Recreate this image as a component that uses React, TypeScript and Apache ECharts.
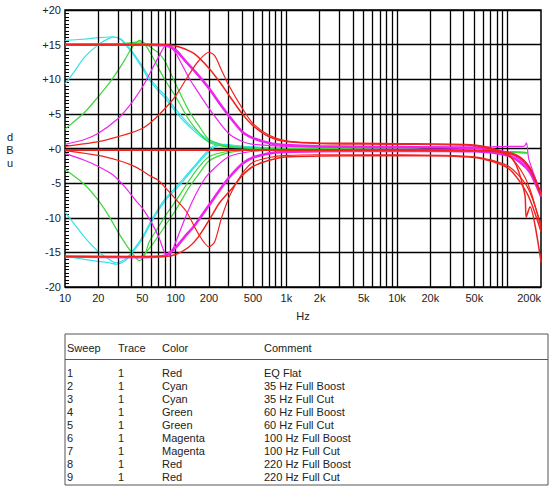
import React, { useEffect, useRef } from 'react';
import * as echarts from 'echarts';

// ---------- axis ticks ----------
const X_LABEL_FREQS = [10, 20, 50, 100, 200, 500, 1000, 2000, 5000, 10000, 20000, 50000, 200000];
const X_GRID_FREQS = [
  20, 30, 40, 50, 60, 70, 80, 90, 100,
  200, 300, 400, 500, 600, 700, 800, 900, 1000,
  2000, 3000, 4000, 5000, 6000, 7000, 8000, 9000, 10000,
  20000, 30000, 40000, 50000, 60000, 70000, 80000, 90000, 100000,
];
const Y_MIN = -20;
const Y_MAX = 20;
const Y_STEP = 5;

// ---------- series (Hz, dBu) ----------
const EQ_FLAT = [[10, -0.2], [100, -0.2], [1000, -0.2], [10000, -0.2], [50000, -0.3], [100000, -0.6], [130000, -1.3], [160000, -3.0], [200000, -6.7]];

const CYAN_35_BOOST_BELL = [[10, 9.3], [12, 11], [15, 13.2], [20, 15.0], [25, 15.9], [28, 16.1], [32, 15.7], [35, 15.0], [40, 13.9], [50, 11.6], [57, 10.0], [70, 8.3], [80, 7.3], [100, 5.3], [130, 3.3], [170, 1.7], [200, 1.0], [300, 0.3], [500, 0.1], [1000, 0], [10000, -0.1], [50000, -0.3], [100000, -0.5], [150000, -0.6]];
const CYAN_35_BOOST_SHELF = [[10, 15.6], [15, 15.8], [20, 16.0], [25, 16.1], [28, 16.1], [32, 15.8], [35, 15.2], [40, 14.1], [50, 11.9], [57, 10.4], [70, 8.6], [80, 7.7], [100, 5.7], [130, 3.6], [170, 2.0], [200, 1.2], [300, 0.4], [500, 0.1], [1000, 0], [10000, -0.1], [50000, -0.3], [100000, -0.5], [150000, -0.6]];
const CYAN_35_CUT_BELL = [[10, -9.2], [12, -10.8], [15, -12.8], [20, -14.9], [25, -16.0], [29, -16.5], [35, -16.0], [39, -15.2], [50, -12.8], [62, -10.0], [80, -7.3], [100, -5.6], [117, -4.4], [150, -2.4], [190, -0.5], [230, 0.5], [280, 0.6], [400, 0.3], [700, 0.1], [1000, 0], [10000, -0.1], [50000, -0.3], [100000, -0.5], [150000, -0.6]];
const CYAN_35_CUT_SHELF = [[10, -15.6], [15, -16.0], [20, -16.3], [25, -16.5], [29, -16.7], [35, -16.2], [39, -15.4], [50, -13.1], [62, -10.3], [80, -7.6], [100, -5.9], [117, -4.7], [150, -2.6], [190, -0.8], [230, 0.3], [280, 0.5], [400, 0.3], [700, 0.1], [1000, 0], [10000, -0.1], [50000, -0.3], [100000, -0.5], [150000, -0.6]];

const GREEN_60_BOOST_BELL = [[10, 2.8], [15, 5.2], [20, 7.5], [25, 9.4], [30, 11.2], [35, 12.9], [40, 14.5], [47, 15.6], [52, 15.2], [60, 13.6], [70, 11.6], [80, 9.9], [100, 7.5], [130, 4.3], [160, 2.4], [200, 0.9], [300, 0.2], [500, 0.05], [1000, 0], [10000, -0.1], [50000, -0.3], [100000, -0.5], [150000, -0.6]];
const GREEN_60_BOOST_SHELF = [[10, 15.0], [30, 15.1], [40, 15.3], [47, 15.4], [55, 15.0], [62, 14.4], [70, 13.8], [80, 12.6], [90, 10.9], [100, 9.3], [130, 5.6], [160, 3.4], [200, 1.3], [300, 0.3], [500, 0.1], [1000, 0], [10000, -0.1], [50000, -0.3], [100000, -0.5], [150000, -0.6]];
const GREEN_60_CUT_BELL = [[10, -3.0], [15, -5.2], [20, -7.5], [25, -9.8], [30, -12.0], [35, -13.7], [40, -15.0], [47, -16.2], [52, -15.5], [58, -13.4], [67, -11.8], [80, -9.8], [100, -7.6], [130, -4.8], [160, -2.8], [200, -1.2], [300, -0.4], [500, -0.1], [1000, -0.1], [10000, -0.1], [50000, -0.3], [100000, -0.5], [150000, -0.6]];
const GREEN_60_CUT_SHELF = [[10, -15.6], [40, -15.7], [50, -15.5], [58, -14.4], [70, -12.6], [80, -11.2], [100, -8.9], [130, -5.8], [160, -3.8], [200, -1.8], [300, -0.6], [500, -0.2], [1000, -0.1], [10000, -0.1], [50000, -0.3], [100000, -0.5], [150000, -0.6]];

const MAGENTA_100_BOOST_BELL = [[10, 0.6], [15, 1.3], [20, 2.2], [30, 4.3], [40, 6.6], [51, 9.1], [60, 11.2], [70, 13.2], [82, 14.9], [90, 14.7], [100, 13.8], [134, 10.0], [150, 8.8], [200, 5.8], [300, 2.2], [400, 1.0], [500, 0.6], [1000, 0.3], [10000, 0.2], [50000, 0.2], [100000, 0.3], [140000, 0.3], [148000, 0.8], [155000, -1.5], [200000, -6.5]];
const MAGENTA_100_BOOST_SHELF = [[10, 15.0], [50, 15.0], [80, 14.9], [100, 14.2], [120, 12.8], [150, 11.1], [200, 8.7], [250, 6.5], [300, 4.8], [400, 2.4], [500, 1.5], [700, 0.8], [1000, 0.5], [2000, 0.3], [10000, 0.2], [50000, 0.1], [100000, -0.6], [130000, -1.5], [160000, -3.0], [200000, -6.7]];
const MAGENTA_100_CUT_BELL = [[10, -0.7], [15, -1.7], [20, -2.6], [27, -3.8], [35, -5.6], [44, -7.6], [50, -8.6], [60, -10.6], [70, -12.7], [83, -15.4], [90, -15.2], [100, -13.5], [125, -9.6], [150, -6.8], [176, -4.8], [200, -3.6], [300, -1.2], [500, -0.4], [1000, -0.2], [10000, -0.2], [50000, -0.4], [100000, -1.0], [130000, -2.0], [160000, -3.5], [200000, -6.9]];
const MAGENTA_100_CUT_SHELF = [[10, -15.6], [50, -15.7], [80, -15.5], [100, -14.3], [120, -12.8], [150, -11.0], [200, -8.2], [250, -6.0], [300, -4.3], [400, -2.2], [500, -1.3], [700, -0.7], [1000, -0.5], [2000, -0.4], [10000, -0.3], [50000, -0.4], [100000, -1.0], [130000, -2.0], [160000, -3.5], [200000, -6.9]];

const RED_220_BOOST_BELL = [[10, 0.3], [20, 1.0], [30, 1.7], [40, 2.3], [50, 2.9], [58, 3.6], [70, 4.8], [88, 6.5], [100, 7.6], [130, 10.5], [160, 12.6], [200, 13.9], [225, 13.4], [260, 11.3], [300, 9.2], [400, 5.8], [500, 3.6], [700, 1.9], [1000, 1.1], [2000, 0.7], [10000, 0.6], [50000, 0.4], [100000, -1.0], [130000, -3.0], [160000, -6.0], [200000, -11.5]];
const RED_220_BOOST_SHELF = [[10, 15.0], [80, 15.0], [100, 14.8], [120, 14.4], [150, 13.6], [200, 11.6], [250, 9.6], [300, 7.8], [400, 5.0], [500, 3.3], [700, 1.7], [1000, 1.0], [2000, 0.8], [10000, 0.7], [50000, 0.5], [100000, -0.8], [120000, -2.5], [143000, -6.7], [147000, -9.9], [159000, -8.4], [200000, -16.4]];
const RED_220_CUT_BELL = [[10, -0.3], [20, -1.0], [30, -1.7], [40, -2.4], [50, -3.2], [58, -3.9], [70, -4.6], [80, -5.6], [100, -7.3], [125, -9.1], [160, -12.3], [200, -14.2], [225, -13.5], [260, -10.0], [310, -6.7], [400, -3.6], [500, -2.0], [700, -1.3], [1000, -1.0], [2000, -0.9], [10000, -0.9], [50000, -1.2], [100000, -2.5], [150000, -5.5], [200000, -11.0]];
const RED_220_CUT_SHELF = [[10, -15.6], [80, -15.6], [100, -15.3], [130, -14.3], [160, -12.8], [205, -10.1], [250, -7.8], [330, -5.6], [400, -3.9], [500, -2.6], [700, -1.7], [1000, -1.2], [2000, -1.1], [10000, -1.0], [50000, -1.3], [100000, -2.8], [150000, -6.5], [200000, -12.0]];

// ---------- legend table ----------
const TABLE_HEADERS = ['Sweep', 'Trace', 'Color', 'Comment'];
const SWEEPS = ['1', '2', '3', '4', '5', '6', '7', '8', '9'];
const TRACES = ['1', '1', '1', '1', '1', '1', '1', '1', '1'];
const COLOR_NAMES = ['Red', 'Cyan', 'Cyan', 'Green', 'Green', 'Magenta', 'Magenta', 'Red', 'Red'];
const COMMENTS = ['EQ Flat', '35 Hz Full Boost', '35 Hz Full Cut', '60 Hz Full Boost', '60 Hz Full Cut', '100 Hz Full Boost', '100 Hz Full Cut', '220 Hz Full Boost', '220 Hz Full Cut'];

const RED = '#f0221e';
const CYAN = '#35e2ea';
const GREEN = '#3ad83a';
const MAGENTA = '#ee24ee';
const FONT = '"Liberation Sans", Arial, Helvetica, sans-serif';
const TEXT = '#222';

function line(data: number[][], color: string, width: number, z: number) {
  return {
    type: 'line',
    data,
    showSymbol: false,
    symbol: 'none',
    smooth: 0.25,
    lineStyle: { color, width },
    itemStyle: { color },
    z,
    silent: true,
  };
}

export default function App() {
  const ref = useRef<HTMLDivElement>(null);

  useEffect(() => {
    if (!ref.current) return;
    const chart = echarts.init(ref.current, null, { renderer: 'svg' });

    const colX = [67, 118, 162, 264];
    const headerY = 348;
    const rowY0 = 372.5;
    const rowStep = 13.1;
    const txt = (text: string, x: number, y: number) => ({
      type: 'text',
      x,
      y,
      style: { text, fill: TEXT, font: `11px ${FONT}`, align: 'left', verticalAlign: 'middle' },
    });
    const tableEls: any[] = [
      { type: 'rect', shape: { x: 65, y: 334, width: 483, height: 151 }, style: { fill: 'none', stroke: '#555', lineWidth: 1 } },
      { type: 'line', shape: { x1: 65, y1: 359.5, x2: 548, y2: 359.5 }, style: { stroke: '#555', lineWidth: 1 } },
    ];
    TABLE_HEADERS.forEach((h, i) => tableEls.push(txt(h, colX[i], headerY)));
    SWEEPS.forEach((s, i) => {
      const y = rowY0 + i * rowStep;
      tableEls.push(txt(s, colX[0], y));
      tableEls.push(txt(TRACES[i], colX[1], y));
      tableEls.push(txt(COLOR_NAMES[i], colX[2], y));
      tableEls.push(txt(COMMENTS[i], colX[3], y));
    });
    tableEls.push({
      type: 'text',
      x: 10,
      y: 150,
      style: { text: 'd\nB\nu', fill: TEXT, font: `11px ${FONT}`, align: 'center', verticalAlign: 'middle', lineHeight: 13 },
    });

    const option: any = {
      animation: false,
      backgroundColor: '#fff',
      grid: { left: 65, right: 9, top: 10, bottom: 209, show: true, borderColor: '#000', borderWidth: 1.5, backgroundColor: 'transparent' },
      xAxis: {
        type: 'log',
        logBase: 10,
        min: 10,
        max: 200000,
        name: 'Hz',
        nameLocation: 'middle',
        nameGap: 23,
        nameTextStyle: { color: TEXT, fontSize: 11, fontFamily: FONT },
        axisLine: { show: false },
        axisTick: { show: false },
        splitLine: { show: false },
        axisLabel: {
          customValues: X_LABEL_FREQS,
          color: TEXT,
          fontSize: 11,
          fontFamily: FONT,
          margin: 5,
          hideOverlap: false,
          showMinLabel: true,
          showMaxLabel: true,
          alignMaxLabel: 'right',
          formatter: (v: number) => (v >= 1000 ? `${Math.round(v / 1000)}k` : `${Math.round(v)}`),
        },
      },
      yAxis: {
        type: 'value',
        min: Y_MIN,
        max: Y_MAX,
        interval: Y_STEP,
        axisLine: { show: false },
        axisTick: { show: true, inside: true, length: 4, lineStyle: { color: '#000', width: 1 } },
        minorTick: { show: true, splitNumber: 10, length: 4, lineStyle: { color: '#000', width: 1 } },
        splitLine: { show: true, lineStyle: { color: '#000', width: 1.3 } },
        axisLabel: {
          color: TEXT,
          fontSize: 11,
          fontFamily: FONT,
          margin: 4,
          formatter: (v: number) => (v >= 0 ? `+${v}` : `${v}`),
        },
      },
      graphic: { elements: tableEls },
      series: [
        {
          type: 'line',
          data: [],
          z: 1,
          silent: true,
          markLine: {
            silent: true,
            symbol: ['none', 'none'],
            label: { show: false },
            lineStyle: { color: '#000', width: 1.3, type: 'solid' },
            data: X_GRID_FREQS.map((f) => ({ xAxis: f })),
          },
        },
        line(CYAN_35_BOOST_BELL, CYAN, 1.2, 3),
        line(CYAN_35_BOOST_SHELF, CYAN, 1.2, 3),
        line(CYAN_35_CUT_BELL, CYAN, 1.2, 3),
        line(CYAN_35_CUT_SHELF, CYAN, 1.2, 3),
        line(GREEN_60_BOOST_BELL, GREEN, 1.2, 4),
        line(GREEN_60_BOOST_SHELF, GREEN, 1.2, 4),
        line(GREEN_60_CUT_BELL, GREEN, 1.2, 4),
        line(GREEN_60_CUT_SHELF, GREEN, 1.2, 4),
        line(MAGENTA_100_BOOST_SHELF, MAGENTA, 2.6, 5),
        line(MAGENTA_100_CUT_SHELF, MAGENTA, 2.6, 5),
        line(MAGENTA_100_BOOST_BELL, MAGENTA, 1.2, 6),
        line(MAGENTA_100_CUT_BELL, MAGENTA, 1.2, 6),
        line(RED_220_BOOST_BELL, RED, 1.2, 7),
        line(RED_220_CUT_BELL, RED, 1.2, 7),
        line(RED_220_BOOST_SHELF, RED, 1.5, 8),
        line(RED_220_CUT_SHELF, RED, 1.5, 8),
        line(EQ_FLAT, RED, 2, 8),
      ],
    };

    chart.setOption(option);
    return () => chart.dispose();
  }, []);

  return (
    <div
      ref={ref}
      style={{ position: 'fixed', left: 0, top: 0, width: 550, height: 496, background: '#fff' }}
    />
  );
}
